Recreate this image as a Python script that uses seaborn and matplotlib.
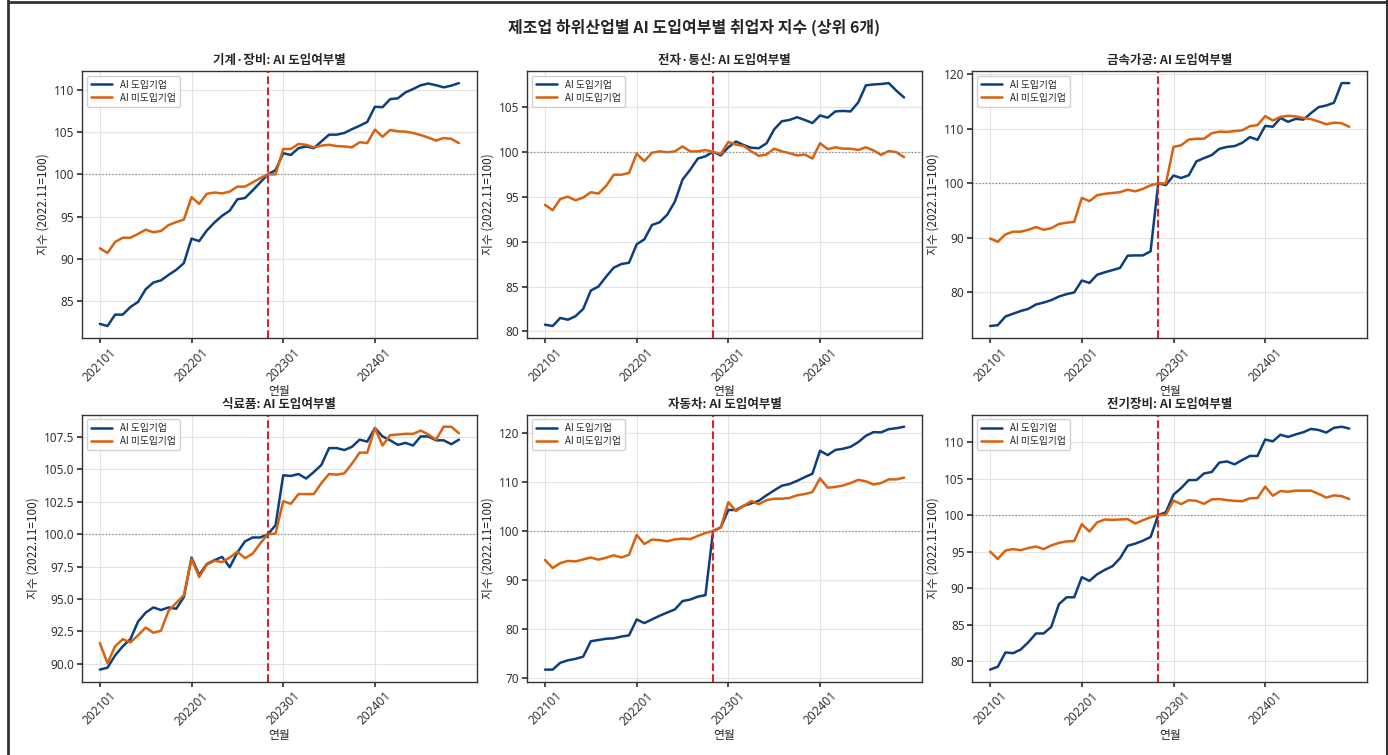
import numpy as np
import pandas as pd
import matplotlib
matplotlib.use("Agg")
import matplotlib.pyplot as plt
import seaborn as sns

# Monthly periods 2021-01 .. 2024-12
months = [f"{y}{m:02d}" for y in (2021, 2022, 2023, 2024) for m in range(1, 13)]
tick_months = ["202101", "202201", "202301", "202401"]
base_month = "202211"

industries = ["기계·장비", "전자·통신", "금속가공", "식료품", "자동차", "전기장비"]
groups = ["AI 도입기업", "AI 미도입기업"]

# Employment index (2022.11 = 100) by industry, AI adopters
machinery_ai = [82.3, 82.05, 83.4, 83.4, 84.3, 84.9, 86.4, 87.2, 87.45, 88.1, 88.7, 89.5,
                92.4, 92.1, 93.35, 94.3, 95.1, 95.7, 97.05, 97.2, 98.1, 99.05, 100.0, 100.5,
                102.5, 102.3, 103.1, 103.3, 103.1, 103.9, 104.7, 104.7, 104.9, 105.35, 105.75, 106.2,
                108.0, 107.95, 108.9, 109.0, 109.7, 110.1, 110.55, 110.75, 110.55, 110.3, 110.5, 110.8]
electronics_ai = [80.75, 80.6, 81.5, 81.3, 81.7, 82.5, 84.55, 85.0, 86.1, 87.1, 87.5, 87.65,
                  89.7, 90.25, 91.85, 92.15, 93.0, 94.45, 96.9, 98.0, 99.25, 99.5, 100.0, 99.6,
                  100.5, 101.15, 100.75, 100.45, 100.4, 100.95, 102.5, 103.4, 103.55, 103.85, 103.55, 103.2,
                  104.05, 103.8, 104.5, 104.55, 104.5, 105.5, 107.4, 107.5, 107.55, 107.65, 106.8, 106.05]
metal_ai = [73.85, 74.0, 75.6, 76.1, 76.6, 77.0, 77.8, 78.15, 78.6, 79.25, 79.7, 80.0,
            82.2, 81.75, 83.25, 83.7, 84.1, 84.5, 86.75, 86.8, 86.8, 87.55, 100.0, 99.7,
            101.45, 101.0, 101.5, 104.05, 104.65, 105.2, 106.35, 106.7, 106.85, 107.45, 108.5, 108.0,
            110.55, 110.4, 112.0, 111.3, 111.85, 111.7, 112.9, 114.0, 114.3, 114.8, 118.4, 118.4]
food_ai = [89.55, 89.7, 90.65, 91.35, 91.9, 93.25, 93.95, 94.35, 94.15, 94.35, 94.25, 95.15,
           98.2, 96.85, 97.7, 98.0, 98.25, 97.45, 98.6, 99.45, 99.75, 99.75, 100.0, 100.7,
           104.55, 104.5, 104.65, 104.3, 104.8, 105.35, 106.65, 106.65, 106.5, 106.75, 107.3, 107.15,
           108.2, 107.55, 107.25, 106.9, 107.05, 106.85, 107.55, 107.55, 107.25, 107.25, 106.95, 107.3]
auto_ai = [71.7, 71.7, 73.1, 73.6, 73.9, 74.35, 77.5, 77.75, 78.0, 78.1, 78.45, 78.7,
           81.95, 81.2, 81.95, 82.7, 83.35, 84.0, 85.7, 86.0, 86.6, 86.9, 100.0, 100.75,
           104.3, 104.3, 105.15, 105.65, 106.2, 107.3, 108.3, 109.25, 109.6, 110.25, 111.0, 111.7,
           116.4, 115.5, 116.55, 116.8, 117.2, 118.15, 119.45, 120.2, 120.15, 120.8, 121.0, 121.3]
electrical_ai = [78.85, 79.25, 81.2, 81.1, 81.6, 82.6, 83.8, 83.8, 84.7, 87.8, 88.75, 88.75,
                 91.5, 91.0, 91.9, 92.5, 93.0, 94.1, 95.8, 96.1, 96.5, 97.0, 100.0, 100.4,
                 102.8, 103.7, 104.8, 104.8, 105.7, 105.9, 107.2, 107.35, 106.95, 107.55, 108.1, 108.1,
                 110.35, 110.1, 111.0, 110.7, 111.05, 111.35, 111.8, 111.65, 111.3, 111.95, 112.1, 111.85]

# Employment index (2022.11 = 100) by industry, non-adopters
machinery_non = [91.25, 90.7, 92.0, 92.5, 92.5, 92.95, 93.45, 93.15, 93.3, 94.0, 94.35, 94.65,
                 97.3, 96.5, 97.7, 97.85, 97.75, 97.95, 98.55, 98.55, 99.05, 99.55, 100.0, 100.0,
                 103.0, 103.0, 103.6, 103.5, 103.2, 103.4, 103.5, 103.35, 103.3, 103.2, 103.8, 103.7,
                 105.3, 104.45, 105.25, 105.1, 105.05, 104.9, 104.65, 104.35, 104.0, 104.3, 104.2, 103.7]
electronics_non = [94.1, 93.5, 94.75, 95.0, 94.6, 94.9, 95.5, 95.35, 96.2, 97.45, 97.45, 97.65,
                   99.8, 98.95, 99.9, 100.05, 99.95, 100.05, 100.6, 100.05, 100.05, 100.2, 100.0, 99.75,
                   101.1, 100.8, 100.65, 100.05, 99.55, 99.7, 100.35, 100.05, 99.85, 99.6, 99.7, 99.25,
                   100.95, 100.3, 100.5, 100.35, 100.35, 100.2, 100.5, 100.15, 99.65, 100.1, 99.95, 99.4]
metal_non = [89.9, 89.3, 90.65, 91.15, 91.15, 91.5, 92.0, 91.5, 91.8, 92.55, 92.8, 92.95,
             97.35, 96.75, 97.85, 98.1, 98.25, 98.4, 98.85, 98.55, 99.0, 99.65, 100.0, 100.0,
             106.7, 107.0, 108.05, 108.2, 108.2, 109.2, 109.5, 109.45, 109.6, 109.75, 110.5, 110.7,
             112.35, 111.55, 112.2, 112.4, 112.3, 112.0, 111.8, 111.35, 110.85, 111.15, 111.05, 110.4]
food_non = [91.6, 90.05, 91.35, 91.9, 91.65, 92.2, 92.8, 92.4, 92.55, 94.1, 94.7, 95.3,
            98.1, 96.7, 97.65, 97.95, 97.85, 98.2, 98.65, 98.15, 98.5, 99.3, 100.0, 100.05,
            102.55, 102.35, 103.1, 103.1, 103.1, 103.95, 104.65, 104.6, 104.7, 105.45, 106.3, 106.3,
            108.2, 106.85, 107.65, 107.7, 107.75, 107.75, 108.0, 107.7, 107.3, 108.3, 108.3, 107.8]
auto_non = [94.1, 92.45, 93.45, 93.9, 93.8, 94.2, 94.6, 94.15, 94.55, 95.05, 94.6, 95.15,
            99.2, 97.35, 98.25, 98.15, 97.9, 98.3, 98.45, 98.35, 99.0, 99.6, 100.0, 100.7,
            105.9, 104.1, 105.15, 106.1, 105.5, 106.3, 106.6, 106.6, 106.75, 107.3, 107.55, 107.95,
            110.75, 108.85, 109.0, 109.3, 109.8, 110.45, 110.15, 109.5, 109.8, 110.55, 110.55, 110.9]
electrical_non = [95.0, 94.0, 95.15, 95.35, 95.2, 95.5, 95.7, 95.35, 95.85, 96.2, 96.4, 96.45,
                  98.75, 97.75, 99.0, 99.4, 99.35, 99.4, 99.45, 98.85, 99.3, 99.7, 100.0, 100.05,
                  102.0, 101.5, 102.05, 101.95, 101.55, 102.15, 102.2, 102.05, 101.95, 101.9, 102.3, 102.35,
                  103.9, 102.65, 103.3, 103.2, 103.35, 103.35, 103.35, 102.9, 102.4, 102.7, 102.6, 102.2]

ai_series = [machinery_ai, electronics_ai, metal_ai, food_ai, auto_ai, electrical_ai]
non_series = [machinery_non, electronics_non, metal_non, food_non, auto_non, electrical_non]

sns.set_theme(style="whitegrid")
plt.rcParams["font.family"] = ["Noto Sans CJK KR", "DejaVu Sans"]
plt.rcParams["axes.unicode_minus"] = False
plt.rcParams.update({
    "axes.edgecolor": "#333333",
    "axes.linewidth": 1.0,
    "grid.color": "#e3e3e3",
    "grid.linewidth": 0.8,
    "xtick.bottom": True,
    "ytick.left": True,
    "xtick.color": "#333333",
    "ytick.color": "#333333",
    "xtick.major.size": 3.5,
    "ytick.major.size": 3.5,
    "xtick.labelsize": 8.5,
    "ytick.labelsize": 8.5,
})

palette = {"AI 도입기업": "#0d3f7f", "AI 미도입기업": "#d9620f"}
num_font = "Noto Sans"

fig, axes = plt.subplots(2, 3, figsize=(13.88, 7.55), dpi=100)
fig.subplots_adjust(left=0.059, right=0.985, top=0.906, bottom=0.097,
                    wspace=0.127, hspace=0.286)

pos = np.arange(len(months))
tick_pos = [months.index(m) for m in tick_months]
base_pos = months.index(base_month)

for ax, name, ai_vals, non_vals in zip(axes.flat, industries, ai_series, non_series):
    df = pd.DataFrame({
        "pos": np.concatenate([pos, pos]),
        "value": ai_vals + non_vals,
        "group": [groups[0]] * len(months) + [groups[1]] * len(months),
    })
    sns.lineplot(data=df, x="pos", y="value", hue="group", hue_order=groups,
                 palette=palette, linewidth=1.8, ax=ax, sort=False)
    ax.axvline(base_pos, color="#d62728", linestyle="--", linewidth=1.5)
    ax.axhline(100, color="#888888", linestyle=":", linewidth=0.9)
    ax.set_title(f"{name}: AI 도입여부별", fontsize=9, fontweight="bold", pad=5)
    ax.set_xlabel("연월", fontsize=8.5, labelpad=1)
    ax.set_ylabel("지수 (2022.11=100)", fontsize=8.5, labelpad=3)
    ax.set_xticks(tick_pos)
    ax.set_xticklabels(tick_months, rotation=45)
    ax.tick_params(axis="both", labelsize=8.5, labelfontfamily=num_font, pad=2)
    leg = ax.legend(loc="upper left", fontsize=7, frameon=True, framealpha=0.9,
                    handlelength=2.2, borderpad=0.4, labelspacing=0.3)
    leg.get_frame().set_edgecolor("#cccccc")
    leg.set_title(None)
    for spine in ax.spines.values():
        spine.set_visible(True)
        spine.set_color("#333333")

fig.suptitle("제조업 하위산업별 AI 도입여부별 취업자 지수 (상위 6개)",
             fontsize=11.5, fontweight="bold", y=0.975)

# Outer frame of the figure
fig.add_artist(plt.Line2D([8 / 1388, 8 / 1388], [0, 1], transform=fig.transFigure,
                          color="#333333", linewidth=2))
fig.add_artist(plt.Line2D([8 / 1388, 1], [0.998, 0.998], transform=fig.transFigure,
                          color="#333333", linewidth=2))
fig.add_artist(plt.Line2D([0.9995, 0.9995], [0, 1], transform=fig.transFigure,
                          color="#333333", linewidth=1.5))

fig.savefig("out.png", dpi=100)
